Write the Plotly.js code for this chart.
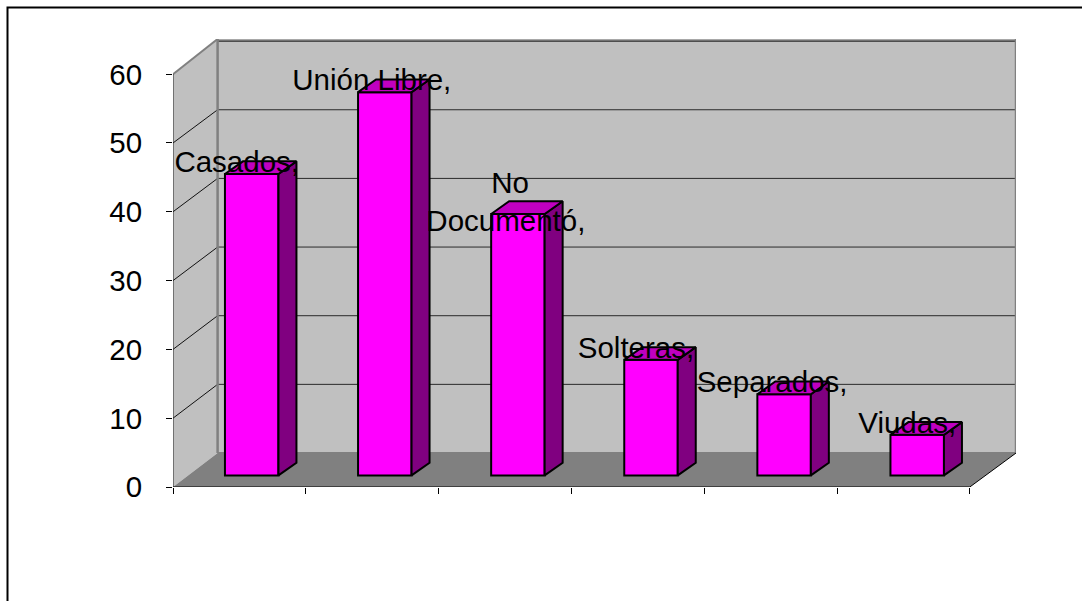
<!DOCTYPE html>
<html>
<head>
<meta charset="utf-8">
<script src="https://cdn.plot.ly/plotly-3.0.1.min.js"></script>
<style>html,body{margin:0;padding:0;background:#fff}#c{width:1082px;height:601px}</style>
</head>
<body>
<div id="c"></div>
<script>
const categories = ["Casados", "Unión Libre", "No Documentó", "Solteras", "Separados", "Viudas"];
const labels = ["Casados,", "Unión Libre,", "\u00a0No<br>Documentó,", "Solteras,", "Separados,", "Viudas,"];
const values = [43.8, 55.7, 38.0, 16.8, 11.8, 5.9];
const yTicks = [0, 10, 20, 30, 40, 50, 60];

// projection geometry, in axis units
const W = 1082, H = 601;
const pl = 173, pr = 1016, pt = 39, pb = 487.3;
const catPx = 132.8, unitPx = 6.885;
const wallDx = 44.6 / catPx, wallDy = 34 / unitPx, wallScale = 6.87 / unitPx;
const barW = 53.5 / catPx, barDx = 18 / catPx, barDy = 12.7 / unitPx;
const barPitch = 133.1 / catPx, barStart = 78.7 / catPx, baseY = 11.6 / unitPx;
const labelDx = -13 / catPx, labelDy = 9.5 / unitPx;
const labelNudgePx = [-2, 0, 1, -2, 1, 3];
const fontFamily = "Liberation Sans, Arial, sans-serif", fontSize = 29.5;
const nCat = categories.length, yMax = yTicks[yTicks.length - 1];
const xTop = (pr - pl) / catPx, yTop = (pb - pt) / unitPx;

const centers = categories.map((_, i) => barStart + i * barPitch);
const sideX = [], sideY = [], topX = [], topY = [];
centers.forEach((c, i) => {
  const xl = c - barW / 2, xr = c + barW / 2, t = baseY + values[i];
  sideX.push(xr, xr + barDx, xr + barDx, xr, xr, null);
  sideY.push(baseY, baseY + barDy, t + barDy, t, baseY, null);
  topX.push(xl, xr, xr + barDx, xl + barDx, xl, null);
  topY.push(t, t, t + barDy, t + barDy, t, null);
});

const traces = [
  {type: "bar", x: centers, y: values, base: baseY, width: barW,
   marker: {color: "#ff00ff", line: {color: "#000", width: 2}}, hoverinfo: "skip", showlegend: false},
  {type: "scatter", mode: "lines", x: sideX, y: sideY, fill: "toself", fillcolor: "#800080",
   line: {color: "#000", width: 2}, hoverinfo: "skip", showlegend: false},
  {type: "scatter", mode: "lines", x: topX, y: topY, fill: "toself", fillcolor: "#c000c0",
   line: {color: "#000", width: 2}, hoverinfo: "skip", showlegend: false},
  {type: "scatter", mode: "text", x: centers.map((c, i) => c + labelDx + labelNudgePx[i] / catPx),
   y: values.map(v => baseY + v + labelDy), text: labels, textposition: "middle center",
   textfont: {family: fontFamily, size: fontSize, color: "#000"},
   cliponaxis: false, hoverinfo: "skip", showlegend: false}
];

const seg = (x0, y0, x1, y1, color, width) => ({type: "line", layer: "below", xref: "x", yref: "y",
  x0, y0, x1, y1, line: {color, width}});
const poly = (pts, fill) => ({type: "path", layer: "below", xref: "x", yref: "y",
  path: "M" + pts.map(p => p.join(",")).join("L") + "Z", fillcolor: fill, line: {width: 0}});

const shapes = [
  poly([[wallDx, wallDy], [xTop, wallDy], [xTop, yTop], [wallDx, yTop]], "#c0c0c0"),
  poly([[0, 0], [wallDx, wallDy], [wallDx, yTop], [0, yMax]], "#c0c0c0"),
  poly([[0, 0], [nCat, 0], [xTop, wallDy], [wallDx, wallDy]], "#808080")
];
shapes.push(seg(wallDx, yTop, xTop, yTop, "#a8a8a8", 2));
yTicks.forEach(v => {
  if (v === 0) return;
  const yb = v * wallScale + wallDy;
  shapes.push(seg(wallDx, yb, xTop, yb, v === yMax ? "#000" : "#2a2a2a", 1));
  if (v !== yMax) shapes.push(seg(0, v, wallDx, yb, "#111", 1));
});
shapes.push(seg(0, yMax, wallDx, yTop, "#808080", 2));
shapes.push(seg(wallDx, wallDy, wallDx, yTop, "#808080", 2.5));
shapes.push(seg(xTop, wallDy, xTop, yTop, "#808080", 2.5));
shapes.push(seg(wallDx, wallDy, xTop, wallDy, "#808080", 2));
shapes.push(seg(0, 0, 0, yMax, "#222", 1));
shapes.push(seg(0, 0, nCat, 0, "#000", 1));
shapes.push(seg(nCat, 0, xTop, wallDy, "#000", 1));
// outer chart frame, open on the right and bottom
const fx = px => (px - pl) / (pr - pl), fy = py => (pb - py) / (pb - pt);
shapes.push({type: "path", layer: "below", xref: "paper", yref: "paper",
  path: `M${fx(7.5)},${fy(H + 5)}L${fx(7.5)},${fy(7.5)}L${fx(W + 5)},${fy(7.5)}`,
  line: {color: "#000", width: 2}});

const layout = {
  width: W, height: H, showlegend: false, paper_bgcolor: "#fff", plot_bgcolor: "#fff",
  margin: {l: pl, r: W - pr, t: pt, b: H - pb, pad: 0},
  xaxis: {range: [0, xTop], tickmode: "array", tickvals: categories.map((_, i) => i).concat(nCat),
    showticklabels: false, ticks: "outside", ticklen: 6, tickwidth: 1, tickcolor: "#000",
    showgrid: false, zeroline: false, showline: false, fixedrange: true},
  yaxis: {range: [0, yTop], tickmode: "array", tickvals: yTicks, ticktext: yTicks.map(String),
    ticks: "outside", ticklen: 6, tickwidth: 1, tickcolor: "#000", ticklabelstandoff: 18,
    tickfont: {family: fontFamily, size: fontSize, color: "#000"},
    showgrid: false, zeroline: false, showline: false, fixedrange: true},
  shapes, barmode: "overlay"
};
Plotly.newPlot("c", traces, layout, {displayModeBar: false, staticPlot: true});
</script>
</body>
</html>
